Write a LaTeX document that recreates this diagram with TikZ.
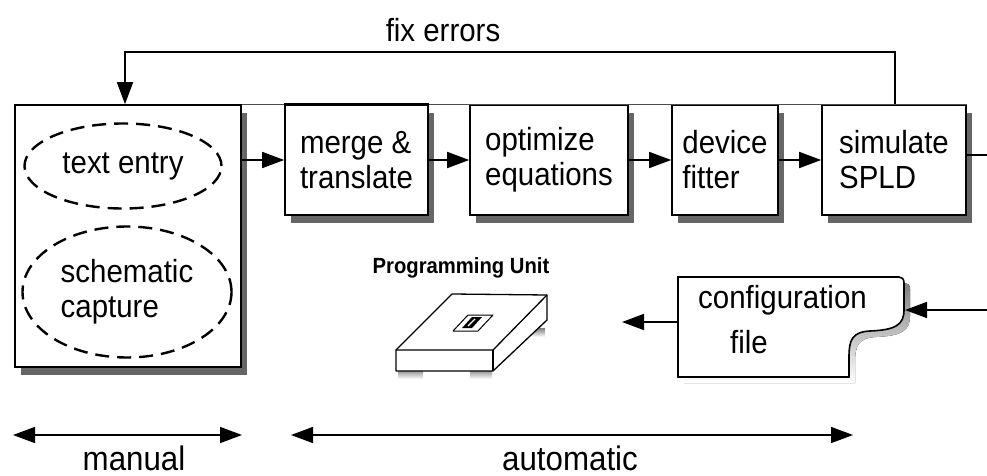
\documentclass[tikz,border=0pt]{standalone}
\usepackage{fontspec}
\setmainfont[FakeStretch=0.92]{Liberation Sans}
\usetikzlibrary{arrows.meta,shapes.geometric,shadows}
\definecolor{shade}{HTML}{666666}

\begin{document}
\begin{tikzpicture}[x=1pt,y=-1pt,
  lab/.style={font=\fontsize{32}{35}\selectfont, inner sep=0pt},
  procbox/.style={draw, line width=1.6pt, fill=white, align=left, inner sep=0pt,
    font=\fontsize{32}{35}\selectfont,
    drop shadow={shadow xshift=6pt, shadow yshift=-8pt, fill=shade, opacity=1}},
  oval/.style={ellipse, draw, dash pattern=on 14pt off 8pt, line width=2.4pt,
    inner sep=0pt, align=left, font=\fontsize{32}{35}\selectfont},
  tip/.tip={Triangle[length=22pt,width=16pt]},
  arr/.style={line width=1.5pt, -tip},
  dbl/.style={line width=1.5pt, tip-tip},
  wire/.style={line width=1.5pt},
]
\useasboundingbox (0,0) rectangle (987,476);

% design-entry stage
\node[procbox, minimum width=226pt, minimum height=262pt] (entry) at (128,236) {};
\node[oval, minimum width=197pt, minimum height=85pt] (txt) at (123,166) {text entry};
\node[oval, minimum width=209pt, minimum height=131pt] (sch) at (127,292) {schematic\\capture};

% automatic tool chain
\node[procbox, minimum width=143pt, minimum height=110pt] (merge) at (356.5,160) {merge \&\\translate};
\node[procbox, minimum width=158pt, minimum height=110pt] (opt) at (549,160) {optimize\\equations};
\node[procbox, minimum width=106pt, minimum height=110pt] (fit) at (725,160) {device\\fitter};
\node[procbox, minimum width=144pt, minimum height=110pt] (sim) at (894,160) {simulate\\SPLD};

% thin rule along the box tops
\draw[line width=0.7pt, black!70] (entry.north east) -- (sim.north east);
\draw[line width=3pt] (merge.north west) -- (merge.north east);

\draw[arr] (entry.east |- merge.west) -- (merge.west);
\draw[arr] (merge) -- (opt);
\draw[arr] (opt) -- (fit);
\draw[arr] (fit) -- (sim);

\coordinate (offR) at (987,155);
\draw[wire] (sim.east |- offR) -- (offR);

% feedback loop
\coordinate (loopR) at (895,52);
\coordinate (loopL) at (125,52);
\draw[arr] (sim.north -| loopR) -- (loopR) -- (loopL) -- (loopL |- entry.north);
\node[lab] (fix) at (443,30) {fix errors};

% programming unit
\node[font=\bfseries\fontsize{22}{24}\selectfont, inner sep=0pt] (pulabel) at (461,268) {Programming Unit};
\begin{scope}[line width=1.3pt, line join=round]
  \fill[shade] (398,369) rectangle (423,379);
  \fill[shade] (470,369) rectangle (492,379);
  \fill[shade] (533,328) rectangle (545,337);
  \filldraw[fill=white] (396,350) -- (452,294) -- (547,295) -- (547,320) -- (493,371) -- (396,371) -- cycle;
  \draw (396,350) -- (493,350) -- (547,295);
  \draw (493,350) -- (493,371);
  \draw[fill=white, line width=1pt] (453,331) -- (468,315) -- (493,315) -- (478,331) -- cycle;
  \fill (462,328) -- (472,317) -- (482,317) -- (472,328) -- cycle;
  \draw[white, line width=1.2pt] (468,326) -- (475,319);
\end{scope}

% configuration file
\def\cfgpath{(678,277) -- (899,277) .. controls (902,277) and (904,279) .. (904,283)
  -- (904,310) .. controls (904,325) and (895,330) .. (870,331)
  .. controls (852,332) and (849,340) .. (849,357) -- (849,377) -- (678,377) -- cycle}
\fill[shade, shift={(6,6)}] \cfgpath;
\filldraw[fill=white, line width=1.6pt] \cfgpath;
\node[lab, anchor=west, align=left, font=\fontsize{32}{45}\selectfont] (cfg) at (698,320)
  {configuration\\\hspace*{32pt}file};

\coordinate (cfgR) at (987,310);
\coordinate (cfgNotch) at (905,310);
\draw[arr] (cfgR) -- (cfgNotch);
\coordinate (cfgL) at (678,322);
\coordinate (toPU) at (622,322);
\draw[arr] (cfgL) -- (toPU);

% scope markers
\coordinate (mL) at (13,435);
\coordinate (mR) at (242,435);
\draw[dbl] (mL) -- (mR);
\node[lab, anchor=base, font=\fontsize{34}{38}\selectfont] (manual) at (134,470) {manual};
\coordinate (aL) at (291,435);
\coordinate (aR) at (853,435);
\draw[dbl] (aL) -- (aR);
\node[lab, anchor=base, font=\fontsize{34}{38}\selectfont] (auto) at (570,470) {automatic};
\end{tikzpicture}
\end{document}
